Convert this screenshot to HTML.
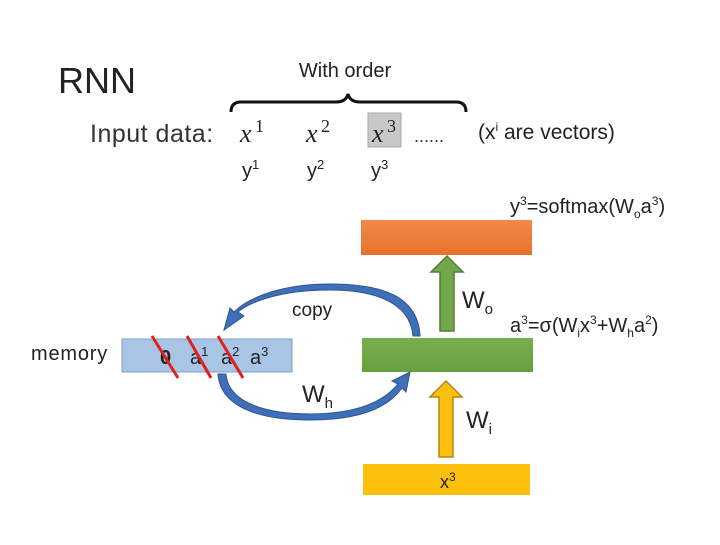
<!DOCTYPE html>
<html><head><style>
body{margin:0;background:#fff;}
svg text{font-family:"Liberation Sans",sans-serif;}
</style></head><body>
<svg width="720" height="540" viewBox="0 0 720 540" xmlns="http://www.w3.org/2000/svg">
<defs>
<linearGradient id="og" x1="0" y1="0" x2="0" y2="1"><stop offset="0" stop-color="#f08a4a"/><stop offset="1" stop-color="#e8722a"/></linearGradient>
<linearGradient id="gg" x1="0" y1="0" x2="0" y2="1"><stop offset="0" stop-color="#78b04e"/><stop offset="1" stop-color="#68a040"/></linearGradient>
</defs>
<text x="58" y="93" font-size="36" fill="#222">RNN</text>
<text x="345" y="77" font-size="20" fill="#222" text-anchor="middle">With order</text>
<path d="M231,112 Q231,102 241,102 L336,102 Q346,102 348,94 Q350,102 360,102 L456,102 Q466,102 466,112" fill="none" stroke="#111" stroke-width="3"/>
<text x="90" y="142" font-size="25" fill="#333" letter-spacing="0.5">Input data:</text>
<rect x="368" y="113" width="33" height="34" fill="#c8c8c8" stroke="#aaa"/>
<g font-style="italic" font-size="26" fill="#222">
<text x="240" y="142" style="font-family:'Liberation Serif',serif">x</text>
<text x="306" y="142" style="font-family:'Liberation Serif',serif">x</text>
<text x="372" y="142" style="font-family:'Liberation Serif',serif">x</text>
</g>
<g font-size="18" fill="#222">
<text x="255" y="132" style="font-family:'Liberation Serif',serif">1</text>
<text x="321" y="132" style="font-family:'Liberation Serif',serif">2</text>
<text x="387" y="132" style="font-family:'Liberation Serif',serif">3</text>
</g>
<text x="414" y="142" font-size="18" fill="#333">......</text>
<text x="478" y="139" font-size="21" fill="#222">(x<tspan font-size="12" dy="-8">i</tspan><tspan dy="8"> are vectors)</tspan></text>
<text x="242" y="177" font-size="20" fill="#222">y<tspan font-size="13" dy="-8">1</tspan></text>
<text x="307" y="177" font-size="20" fill="#222">y<tspan font-size="13" dy="-8">2</tspan></text>
<text x="371" y="177" font-size="20" fill="#222">y<tspan font-size="13" dy="-8">3</tspan></text>
<text x="510" y="213" font-size="20" fill="#222">y<tspan font-size="12" dy="-8">3</tspan><tspan dy="8">=softmax(W</tspan><tspan font-size="12" dy="5">o</tspan><tspan dy="-5">a</tspan><tspan font-size="12" dy="-8">3</tspan><tspan dy="8">)</tspan></text>
<rect x="361" y="220" width="171" height="35" fill="url(#og)"/>
<polygon points="440,331 454,331 454,272 463,272 447,256 431,272 440,272" fill="#70a84a" stroke="#4f7f30" stroke-width="1.5"/>
<text x="462" y="308" font-size="24" fill="#222">W<tspan font-size="15" dy="6">o</tspan></text>
<text x="510" y="332" font-size="20" fill="#222">a<tspan font-size="12" dy="-8">3</tspan><tspan dy="8">=σ(W</tspan><tspan font-size="12" dy="5">i</tspan><tspan dy="-5">x</tspan><tspan font-size="12" dy="-8">3</tspan><tspan dy="8">+W</tspan><tspan font-size="12" dy="5">h</tspan><tspan dy="-5">a</tspan><tspan font-size="12" dy="-8">2</tspan><tspan dy="8">)</tspan></text>
<rect x="362" y="338" width="171" height="34" fill="url(#gg)"/>
<rect x="122" y="339" width="170" height="33" fill="#a9c5e6" stroke="#7f9fc8" stroke-width="1"/>
<text x="31" y="360" font-size="20" fill="#222" letter-spacing="0.8">memory</text>
<text x="160" y="364" font-size="20" fill="#222" font-weight="bold">0</text>
<text x="190" y="364" font-size="20" fill="#222">a<tspan font-size="13" dy="-8">1</tspan></text>
<text x="221" y="364" font-size="20" fill="#222">a<tspan font-size="13" dy="-8">2</tspan></text>
<text x="250" y="364" font-size="20" fill="#222">a<tspan font-size="13" dy="-8">3</tspan></text>
<g stroke="#e0201c" stroke-width="3">
<line x1="152" y1="336" x2="178" y2="378"/>
<line x1="187" y1="336" x2="211" y2="378"/>
<line x1="218" y1="336" x2="243" y2="378"/>
</g>
<path d="M413,336 C410,300 370,290 330,290 C280,290 250,302 238,312 L244,316 L224,330 L230,308 L234,312 C250,296 285,284 330,284 C380,284 418,295 420,336 Z" fill="#3f6fb8" stroke="#2f5590" stroke-width="1"/>
<text x="292" y="316" font-size="19" fill="#222">copy</text>
<path d="M226,374 C228,400 260,414 310,414 C360,414 385,400 398,384 L392,381 L410,372 L406,392 L402,388 C388,408 360,420 310,420 C255,420 220,405 218,374 Z" fill="#3f6fb8" stroke="#2f5590" stroke-width="1"/>
<text x="302" y="402" font-size="24" fill="#222">W<tspan font-size="15" dy="6">h</tspan></text>
<polygon points="439,457 453,457 453,397 462,397 446,381 430,397 439,397" fill="#fbbf10" stroke="#b08a10" stroke-width="1.5"/>
<text x="466" y="428" font-size="24" fill="#222">W<tspan font-size="15" dy="6">i</tspan></text>
<rect x="363" y="464" width="167" height="31" fill="#fcc00c"/>
<text x="440" y="488" font-size="18" fill="#222">x<tspan font-size="12" dy="-7">3</tspan></text>
</svg>
</body></html>
